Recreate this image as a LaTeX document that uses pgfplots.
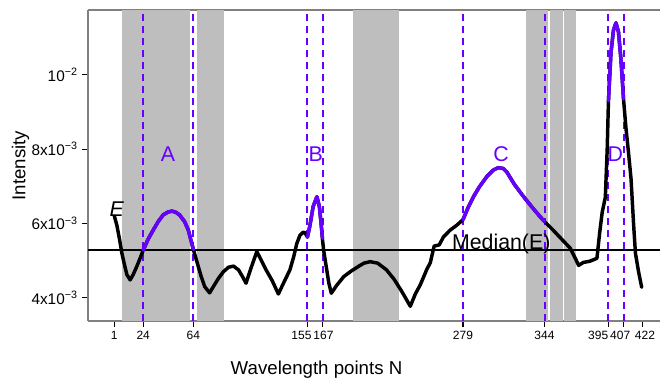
\documentclass[border=0pt]{standalone}
\usepackage{pgfplots}
\pgfplotsset{compat=1.18}
\usepackage{fontspec}
\setmainfont{Liberation Sans}
\definecolor{bandgray}{RGB}{190,190,190}
\definecolor{myviolet}{RGB}{102,0,255}
\definecolor{axisgray}{RGB}{128,128,128}
\begin{document}
\begin{tikzpicture}
\begin{axis}[
  at={(0,0)}, anchor=south west,
  scale only axis, width=429pt, height=233.25pt,
  xmin=-20, xmax=436.1, ymin=3.373e-3, ymax=11.744e-3,
  axis x line*=box, axis y line*=left,
  axis line style={axisgray, line width=1pt},
  xtick pos=left, ytick pos=left,
  tick align=outside,
  major tick length=4.2pt,
  every tick/.style={black, line width=0.8pt},
  xtick={1,24,64,155,167,279,344,395,407,422},
  xticklabels={1,24,64,
    \makebox[0pt][l]{\hspace*{-12pt}155},
    \makebox[0pt][l]{\hspace*{-6.8pt}167},
    279,344,
    \makebox[0pt][l]{\hspace*{-15.2pt}395},
    \makebox[0pt][l]{\hspace*{-10pt}407},
    \makebox[0pt][l]{\hspace*{-5.5pt}422}},
  ytick={0.004,0.006,0.008,0.01},
  yticklabels={4x10\textsuperscript{−3},6x10\textsuperscript{−3},8x10\textsuperscript{−3},10\textsuperscript{−2}},
  scaled y ticks=false,
  xticklabel style={font=\fontsize{9}{10}\selectfont},
  yticklabel style={font=\fontsize{11.5}{13}\selectfont},
  xlabel={Wavelength points N},
  ylabel={Intensity},
  label style={font=\fontsize{14}{16}\selectfont},
  xlabel style={at={(axis description cs:0.3995,-0.1736)}, anchor=base},
  ylabel style={at={(axis description cs:-0.118,0.5)}, anchor=center},
  clip=true,
]
% gray bands
\addplot[fill=bandgray, draw=none] coordinates {(7.1,3.373e-3) (61.4,3.373e-3) (61.4,11.744e-3) (7.1,11.744e-3)} -- cycle;
\addplot[fill=bandgray, draw=none] coordinates {(66.9,3.373e-3) (88.5,3.373e-3) (88.5,11.744e-3) (66.9,11.744e-3)} -- cycle;
\addplot[fill=bandgray, draw=none] coordinates {(191.6,3.373e-3) (228.0,3.373e-3) (228.0,11.744e-3) (191.6,11.744e-3)} -- cycle;
\addplot[fill=bandgray, draw=none] coordinates {(329.3,3.373e-3) (347.1,3.373e-3) (347.1,11.744e-3) (329.3,11.744e-3)} -- cycle;
\addplot[fill=bandgray, draw=none] coordinates {(348.5,3.373e-3) (358.6,3.373e-3) (358.6,11.744e-3) (348.5,11.744e-3)} -- cycle;
\addplot[fill=bandgray, draw=none] coordinates {(359.6,3.373e-3) (368.9,3.373e-3) (368.9,11.744e-3) (359.6,11.744e-3)} -- cycle;
% median line
\addplot[black, line width=0.8pt] coordinates {(-20,5.284e-3) (436.1,5.284e-3)};
% dashed boundaries
\addplot[myviolet, line width=1.5pt, dash pattern=on 5.5pt off 3.5pt] coordinates {(24,3.373e-3) (24,11.744e-3)};
\addplot[myviolet, line width=1.5pt, dash pattern=on 5.5pt off 3.5pt] coordinates {(64,3.373e-3) (64,11.744e-3)};
\addplot[myviolet, line width=1.5pt, dash pattern=on 5.5pt off 3.5pt] coordinates {(155,3.373e-3) (155,11.744e-3)};
\addplot[myviolet, line width=1.5pt, dash pattern=on 5.5pt off 3.5pt] coordinates {(167,3.373e-3) (167,11.744e-3)};
\addplot[myviolet, line width=1.5pt, dash pattern=on 5.5pt off 3.5pt] coordinates {(279,3.373e-3) (279,11.744e-3)};
\addplot[myviolet, line width=1.5pt, dash pattern=on 5.5pt off 3.5pt] coordinates {(344,3.373e-3) (344,11.744e-3)};
\addplot[myviolet, line width=1.5pt, dash pattern=on 5.5pt off 3.5pt] coordinates {(395,3.373e-3) (395,11.744e-3)};
\addplot[myviolet, line width=1.5pt, dash pattern=on 5.5pt off 3.5pt] coordinates {(407,3.373e-3) (407,11.744e-3)};
% spectrum
\addplot[black, line width=2.6pt, line join=round, line cap=round] table[y expr=\thisrowno{1}*0.001] {
1 6.20
3 5.95
5 5.60
7 5.20
9 4.90
11 4.62
13.6 4.48
16 4.62
19 4.85
22 5.10
24 5.28
28 5.58
32 5.82
36 6.05
40 6.23
44 6.31
47 6.33
50 6.30
53 6.23
57 6.05
60 5.82
64 5.30
67 4.95
70 4.60
73 4.30
77 4.13
80 4.30
84 4.52
88 4.70
92 4.82
96 4.85
100 4.75
103 4.58
106 4.39
110 4.80
114.6 5.24
118 5.02
122 4.75
127 4.45
131.8 4.10
136 4.40
141 4.75
144 5.10
146.5 5.46
149 5.68
151.5 5.76
153 5.75
155 5.63
157 5.95
159.5 6.45
162.5 6.72
164.5 6.45
166 5.95
167 5.55
168 5.25
170 4.83
172 4.40
174 4.12
178 4.32
184 4.57
190 4.72
196 4.85
200 4.93
205 4.97
211 4.93
218 4.75
224 4.50
230 4.18
237 3.77
241 4.10
245 4.35
250 4.75
253 4.95
256 5.39
260 5.42
263.5 5.64
268.8 5.82
274 5.95
279 6.10
283 6.42
287.4 6.72
292 6.98
298 7.26
303 7.43
307 7.50
311 7.48
314 7.38
320 7.05
327.3 6.72
335 6.40
340 6.20
344 6.05
350 5.85
357 5.60
364.6 5.33
368 5.10
371.2 4.87
375 4.95
380 4.98
385.8 5.06
388 5.75
390 6.30
392.5 6.70
394 8.00
395 9.30
397 10.60
399 11.20
401 11.40
403 11.15
405 10.40
407 9.35
409 8.55
411 7.90
413 7.20
415 6.00
416.5 5.20
419 4.70
421.5 4.28
};
% highlighted regions
\addplot[myviolet, line width=2.6pt, line join=round, line cap=round] table[y expr=\thisrowno{1}*0.001] {
24 5.28
28 5.58
32 5.82
36 6.05
40 6.23
44 6.31
47 6.33
50 6.30
53 6.23
57 6.05
60 5.82
64 5.30
};
\addplot[myviolet, line width=2.6pt, line join=round, line cap=round] table[y expr=\thisrowno{1}*0.001] {
155 5.63
157 5.95
159.5 6.45
162.5 6.72
164.5 6.45
166 5.95
167 5.60
};
\addplot[myviolet, line width=2.6pt, line join=round, line cap=round] table[y expr=\thisrowno{1}*0.001] {
279 6.10
283 6.42
287.4 6.72
292 6.98
298 7.26
303 7.43
307 7.50
311 7.48
314 7.38
320 7.05
327.3 6.72
335 6.40
340 6.20
344 6.05
};
\addplot[myviolet, line width=2.6pt, line join=round, line cap=round] table[y expr=\thisrowno{1}*0.001] {
395 9.30
397 10.60
399 11.20
401 11.40
403 11.15
405 10.40
407 9.35
};
% labels
\node[myviolet, font=\fontsize{16}{18}\selectfont] at (axis cs:43.8,7.87e-3) {A};
\node[myviolet, font=\fontsize{16}{18}\selectfont] at (axis cs:161.6,7.87e-3) {B};
\node[myviolet, font=\fontsize{16}{18}\selectfont] at (axis cs:309.3,7.87e-3) {C};
\node[myviolet, font=\fontsize{16}{18}\selectfont] at (axis cs:400.5,7.87e-3) {D};
\node[black, font=\fontsize{16}{18}\selectfont\itshape] at (axis cs:3,6.39e-3) {E};
\node[black, anchor=base, inner sep=0pt, font=\fontsize{16}{18}\selectfont] at (axis cs:309.5,5.30e-3) {Median(E)};
\end{axis}
\pgfresetboundingbox
\path (-66pt,-44.25pt) rectangle (429pt,240.75pt);
\end{tikzpicture}
\end{document}
